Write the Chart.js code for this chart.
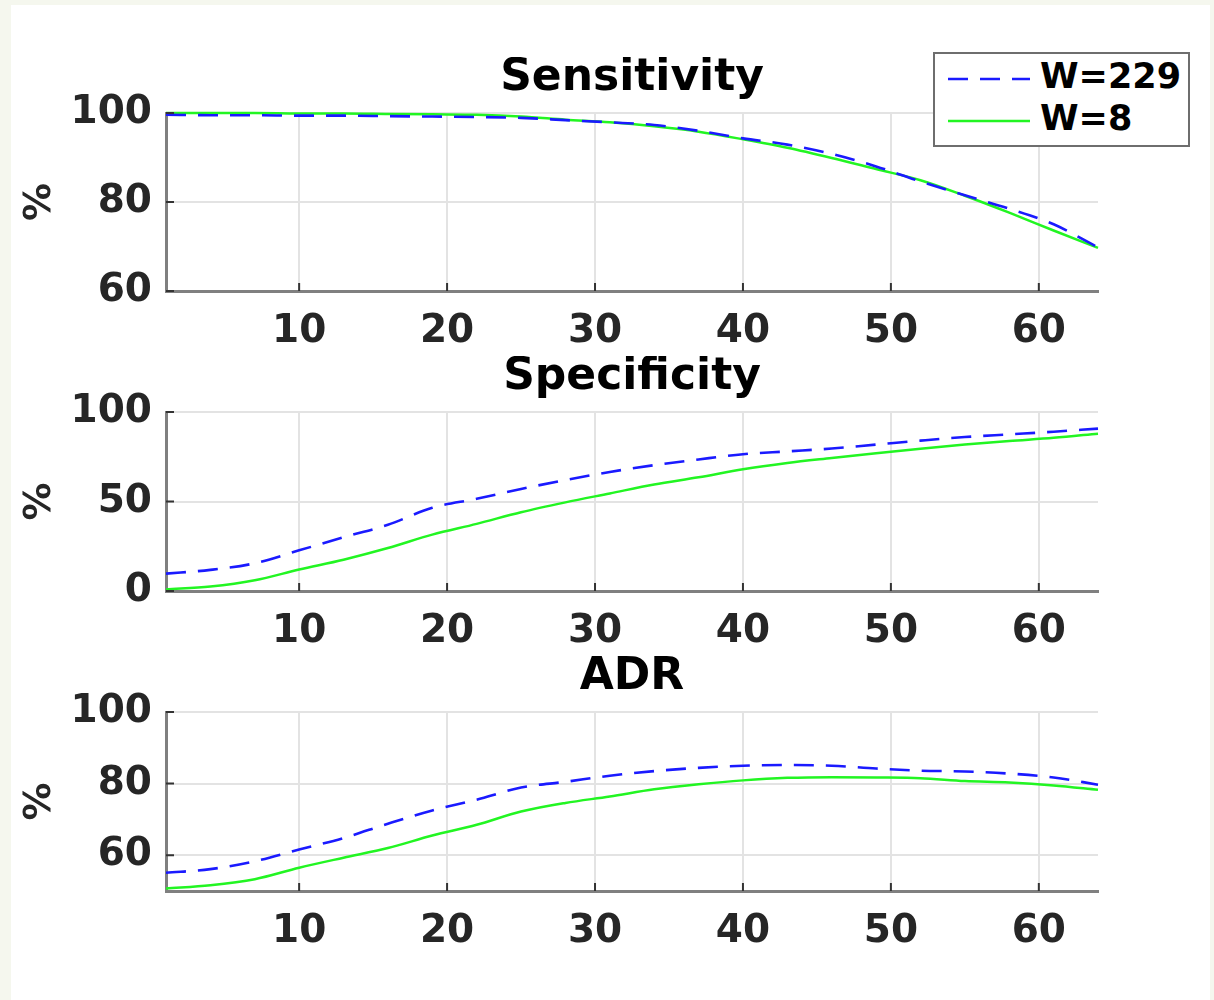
<!DOCTYPE html>
<html>
<head>
<meta charset="utf-8">
<script src="https://cdn.jsdelivr.net/npm/chart.js@4.4.1/dist/chart.umd.min.js"></script>
<style>
  body { margin: 0; width: 1214px; height: 1000px; position: relative; overflow: hidden; background: #f5f7ee; font-family: "DejaVu Sans", sans-serif; }
  #panel { position: absolute; left: 11px; top: 5px; width: 1199px; height: 995px; background: #fff; }
  canvas { position: absolute; left: 0; }
  #legend { position: absolute; left: 933px; top: 52px; width: 253px; height: 91px; border: 2px solid #6e6e6e; background: #fff; }
  #legend svg { position: absolute; left: 0; top: 0; }
  #legend span { position: absolute; left: 105px; font-size: 35px; line-height: 35px; font-weight: bold; color: #000; }
</style>
</head>
<body>
<div id="panel"></div>
<canvas id="sens" width="1214" height="304" style="top:57px"></canvas>
<canvas id="spec" width="1214" height="305" style="top:356px"></canvas>
<canvas id="adr" width="1214" height="305" style="top:656px"></canvas>
<div id="legend">
  <svg width="253" height="91">
    <line x1="13" y1="25" x2="95" y2="25" stroke="#1a1aff" stroke-width="2.5" stroke-dasharray="20 12"/>
    <line x1="13" y1="67" x2="95" y2="67" stroke="#22f522" stroke-width="2.5"/>
  </svg>
  <span style="top:5px">W=229</span>
  <span style="top:47px">W=8</span>
</div>
<script>
// window size W (x axis)
const xs = [1, 4, 7, 10, 13, 16, 19, 22, 25, 28, 31, 34, 37, 40, 43, 46, 49, 52, 55, 58, 61, 64];

// Sensitivity (%)
const sensW229 = [99.6, 99.5, 99.5, 99.4, 99.4, 99.3, 99.2, 99.1, 98.9, 98.4, 97.9, 97.3, 96.0, 94.3, 92.9, 90.8, 88.0, 84.6, 81.5, 78.5, 75.0, 69.8];
const sensW8   = [100, 100, 100, 99.9, 99.9, 99.8, 99.7, 99.6, 99.2, 98.5, 97.9, 97.0, 95.8, 94.1, 92.2, 89.9, 87.4, 84.9, 81.4, 77.6, 73.6, 69.7];

// Specificity (%)
const specW229 = [9.7, 11.8, 15.5, 22.7, 30.0, 37.0, 46.5, 51.5, 57.0, 62.0, 66.5, 70.3, 73.5, 76.4, 78.0, 79.6, 81.8, 84.0, 86.0, 87.5, 89.0, 90.7];
const specW8   = [0.9, 2.5, 6.0, 12.0, 17.5, 24.0, 31.5, 37.5, 44.0, 49.5, 54.5, 59.5, 63.5, 68.0, 71.5, 74.3, 77.0, 79.5, 81.8, 83.8, 85.6, 87.9];

// ADR (%)
const adrW229 = [55.1, 56.1, 58.3, 61.6, 64.8, 68.8, 72.5, 75.5, 78.9, 80.5, 82.2, 83.5, 84.4, 85.0, 85.2, 85.0, 84.2, 83.6, 83.4, 82.8, 81.7, 79.7];
const adrW8   = [50.7, 51.6, 53.3, 56.5, 59.3, 62.0, 65.5, 68.5, 72.2, 74.6, 76.4, 78.4, 79.8, 80.9, 81.6, 81.8, 81.7, 81.5, 80.7, 80.3, 79.5, 78.3];

const xTickVals = [10, 20, 30, 40, 50, 60];
const sensTicks = [60, 80, 100];
const specTicks = [0, 50, 100];
const adrTicks = [60, 80, 100];

const FONT = "'DejaVu Sans', sans-serif";

// MATLAB style: ticks point into the axes
const inwardTicks = {
  id: 'inwardTicks',
  afterDatasetsDraw(chart) {
    const { ctx, chartArea: a, scales: { x, y } } = chart;
    ctx.save();
    ctx.strokeStyle = '#333';
    ctx.lineWidth = 2;
    ctx.beginPath();
    x.ticks.forEach(t => {
      const px = x.getPixelForValue(t.value);
      ctx.moveTo(px, a.bottom);
      ctx.lineTo(px, a.bottom - 8);
    });
    y.ticks.forEach(t => {
      const py = y.getPixelForValue(t.value);
      ctx.moveTo(a.left, py);
      ctx.lineTo(a.left + 8, py);
    });
    ctx.stroke();
    ctx.restore();
  }
};

function points(vals) {
  return xs.map((x, i) => ({ x: x, y: vals[i] }));
}

function makeChart(id, title, yMin, yMax, yTicks, w229, w8) {
  return new Chart(document.getElementById(id), {
    type: 'line',
    data: {
      datasets: [
        { label: 'W=229', data: points(w229), borderColor: '#1a1aff', borderWidth: 2.6, borderDash: [20, 12],
          pointRadius: 0, cubicInterpolationMode: 'monotone', fill: false, clip: 5 },
        { label: 'W=8', data: points(w8), borderColor: '#22f522', borderWidth: 2.5,
          pointRadius: 0, cubicInterpolationMode: 'monotone', fill: false, clip: 5 }
      ]
    },
    options: {
      responsive: false,
      animation: false,
      layout: { padding: { left: 0, right: 116, top: 0, bottom: 0 } },
      plugins: {
        legend: { display: false },
        tooltip: { enabled: false },
        title: {
          display: true, text: title, color: '#000', fullSize: false,
          font: { family: FONT, size: 44, weight: 'bold', lineHeight: 1 },
          padding: { top: 0, bottom: 12 }
        }
      },
      scales: {
        x: {
          type: 'linear', min: 1, max: 64,
          afterBuildTicks: s => { s.ticks = xTickVals.map(v => ({ value: v })); },
          afterFit: s => { s.height = 70; },
          grid: { color: '#e3e3e3', lineWidth: 2, drawTicks: false },
          border: { color: '#808080', width: 3 },
          ticks: { color: '#262626', font: { family: FONT, size: 39, weight: 'bold' }, padding: 17, maxRotation: 0, autoSkip: false }
        },
        y: {
          min: yMin, max: yMax,
          afterBuildTicks: s => { s.ticks = yTicks.map(v => ({ value: v })); },
          afterFit: s => { s.width = 166; },
          grid: { color: '#e3e3e3', lineWidth: 2, drawTicks: false },
          border: { color: '#808080', width: 3 },
          ticks: { color: '#262626', font: { family: FONT, size: 39, weight: 'bold' }, padding: 14 },
          title: { display: true, text: '%', color: '#262626', font: { family: FONT, size: 38, weight: 'bold', lineHeight: 1 }, padding: { top: 21, bottom: 0 } }
        }
      }
    },
    plugins: [inwardTicks]
  });
}

makeChart('sens', 'Sensitivity', 60, 100, sensTicks, sensW229, sensW8);
makeChart('spec', 'Specificity', 0, 100, specTicks, specW229, specW8);
makeChart('adr', 'ADR', 50, 100, adrTicks, adrW229, adrW8);
</script>
</body>
</html>
